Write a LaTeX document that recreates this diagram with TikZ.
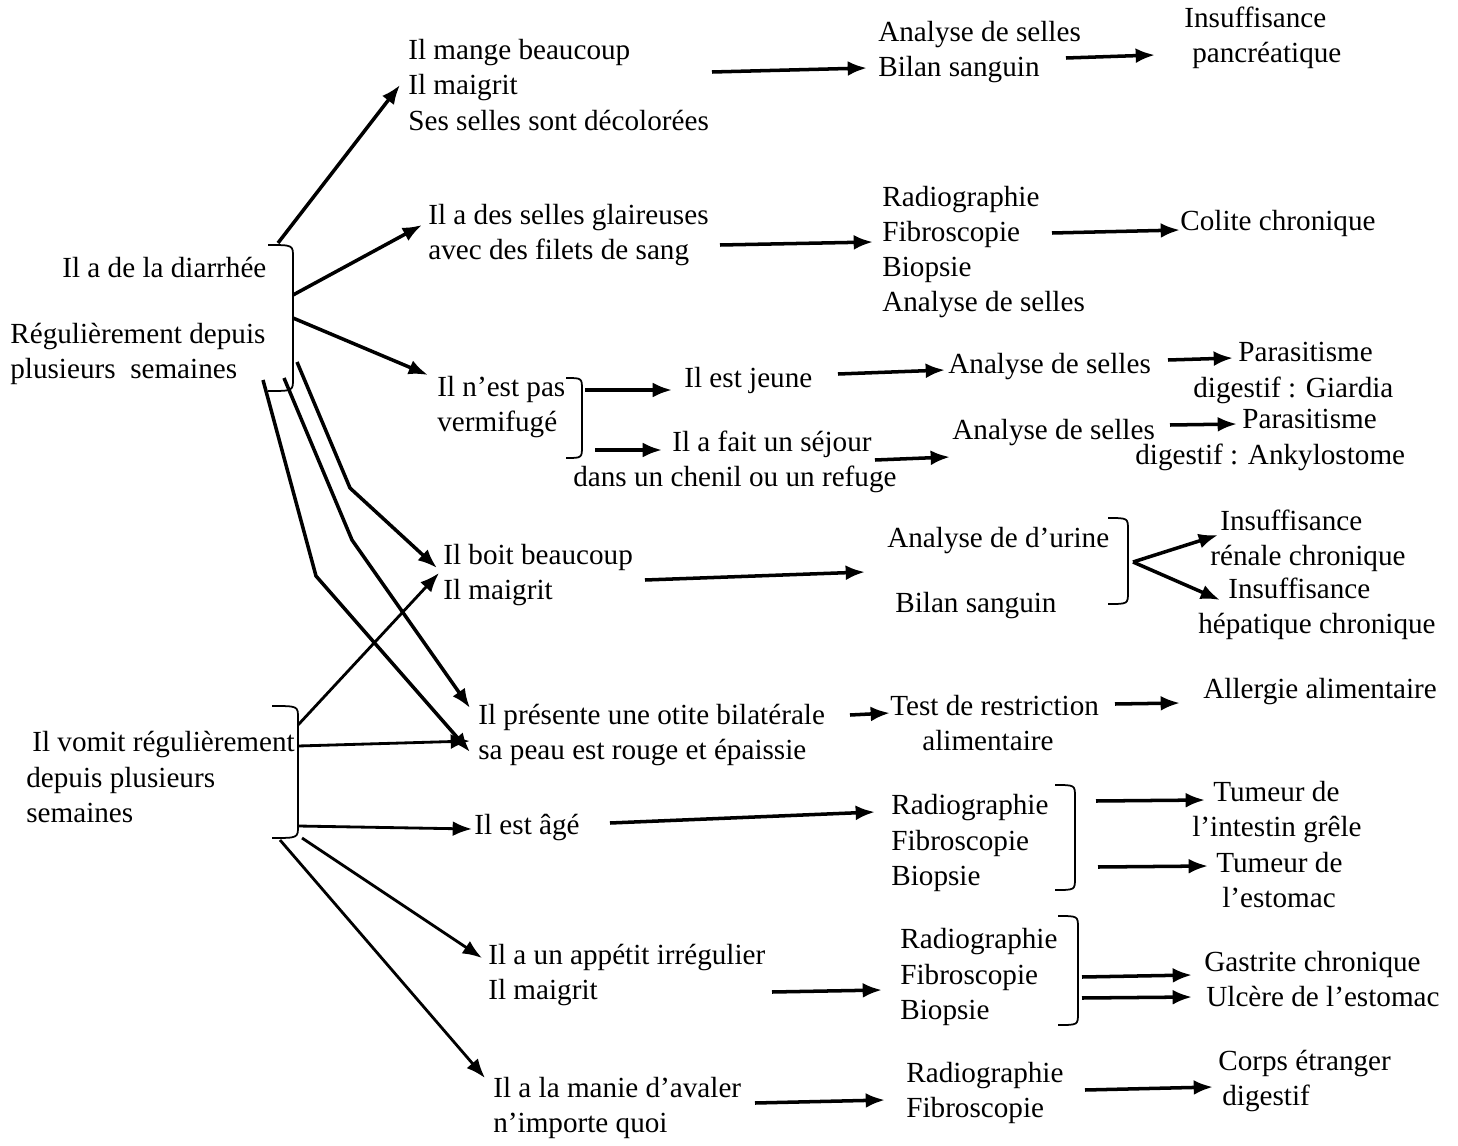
\documentclass[tikz,border=0pt]{standalone}
\usepackage{fontspec}
\setmainfont{Liberation Serif}
\usetikzlibrary{arrows.meta,calc}

\tikzset{
  txt/.style={inner sep=0pt, anchor=west, align=left, font=\fontsize{16.6pt}{20pt}\selectfont},
  arr/.style={line width=2pt, -{Latex[length=11pt,width=8.5pt]}},
  arrthin/.style={arr, line width=1.6pt},
  brc/.style={line width=1pt},
}

% closing bracket: tip x, bar x, top y, bottom y
\newcommand{\sidebrace}[4]{%
  \draw[brc] (#1,#3) .. controls (#2,#3) .. (#2,{#3+12}) -- (#2,{#4-12}) .. controls (#2,#4) .. (#1,#4);}

\begin{document}
\begin{tikzpicture}[x=0.02cm,y=-0.02cm]
\useasboundingbox (0,0) rectangle (1458,1146);

% signs
\node[txt] (diarr) at (62,268) {Il a de la diarrhée};
\node[txt] (regul) at (10,354) {Régulièrement depuis\\plusieurs\ \ semaines};
\node[txt] (vomit) at (26,777) {\hspace*{0.12cm}Il vomit régulièrement\\depuis plusieurs\\semaines};

% symptoms
\node[txt] (mange) at (408,85) {Il mange beaucoup\\Il maigrit\\Ses selles sont décolorées};
\node[txt] (glair) at (428,235) {Il a des selles glaireuses\\avec des filets de sang};
\node[txt] (verm) at (437,407) {Il n’est pas\\vermifugé};
\node[txt] (jeune) at (684,380) {Il est jeune};
\node[txt] (sejour) at (573,462) {\hspace*{1.98cm}Il a fait un séjour\\dans un chenil ou un refuge};
\node[txt] (boit) at (443,575) {Il boit beaucoup\\Il maigrit};
\node[txt] (otite) at (478,735) {Il présente une otite bilatérale\\sa peau est rouge et épaissie};
\node[txt] (age) at (474,827) {Il est âgé};
\node[txt] (appetit) at (488,975) {Il a un appétit irrégulier\\Il maigrit};
\node[txt] (manie) at (493,1108) {Il a la manie d’avaler\\n’importe quoi};

% exams
\node[txt] (bilan) at (878,52) {Analyse de selles\\Bilan sanguin};
\node[txt] (radioA) at (882,252) {Radiographie\\Fibroscopie\\Biopsie\\Analyse de selles};
\node[txt] (selA) at (948,367) {Analyse de selles};
\node[txt] (selB) at (952,433) {Analyse de selles};
\node[txt] (urine) at (887,573) {Analyse de d’urine\\[0.6cm]\hspace*{0.16cm}Bilan sanguin};
\node[txt] (test) at (890,723) {Test de restriction\\\hspace*{0.64cm}alimentaire};
\node[txt] (radioB) at (891,843) {Radiographie\\Fibroscopie\\Biopsie};
\node[txt] (radioC) at (900,977) {Radiographie\\Fibroscopie\\Biopsie};
\node[txt] (radioD) at (906,1093) {Radiographie\\Fibroscopie};

% diagnoses
\node[txt] (pancr) at (1184,38) {Insuffisance\\\hspace*{0.16cm}pancréatique};
\node[txt] (colite) at (1180,223) {Colite chronique};
\node[txt] (giard) at (1193,373) {\hspace*{0.9cm}Parasitisme\\digestif : Giardia};
\node[txt] (ankyl) at (1135,440) {\hspace*{2.14cm}Parasitisme\\digestif : Ankylostome};
\node[txt] (renal) at (1210,541) {\hspace*{0.2cm}Insuffisance\\rénale chronique};
\node[txt] (hepat) at (1198,609) {\hspace*{0.6cm}Insuffisance\\hépatique chronique};
\node[txt] (allerg) at (1203,692) {Allergie alimentaire};
\node[txt] (tumgr) at (1192,812) {\hspace*{0.42cm}Tumeur de\\l’intestin grêle};
\node[txt] (tumes) at (1216,880) {Tumeur de\\\hspace*{0.12cm}l’estomac};
\node[txt] (gastr) at (1204,964) {Gastrite chronique};
\node[txt] (ulcer) at (1206,996) {Ulcère de l’estomac};
\node[txt] (corps) at (1218,1081) {Corps étranger\\\hspace*{0.08cm}digestif};

% brackets
\sidebrace{268}{293}{245}{391}
\sidebrace{272}{298}{706}{838}
\sidebrace{566}{582}{378}{458}
\sidebrace{1108}{1128}{518}{604}
\sidebrace{1055}{1075}{785}{890}
\sidebrace{1058}{1078}{916}{1025}

\coordinate (b1a) at (278,243);
\coordinate (b1b) at (293,295);
\coordinate (b1c) at (293,318);
\coordinate (b1d) at (297,362);
\coordinate (b1e) at (284,378);
\coordinate (b1f) at (263,380);
\coordinate (b2a) at (298,725);
\coordinate (b2b) at (298,746);
\coordinate (b2c) at (298,826);
\coordinate (b2d) at (302,838);
\coordinate (b2e) at (280,840);
\coordinate (b3a) at (585,390);
\coordinate (b3b) at (595,450);
\coordinate (b4) at (1133,562);
\coordinate (b5a) at (1096,801);
\coordinate (b5b) at (1098,867);
\coordinate (b6a) at (1082,977);
\coordinate (b6b) at (1082,998);

% arrows out of the brackets
\foreach \s/\t/\dx/\dy in {b1a/mange/-8/0, b1b/glair/-6/-10, b1c/verm/-9/-32,
  b3a/jeune/-12/10, b3b/sejour/89/-12, b4/renal/8/-6, b4/hepat/22/-9,
  b5a/tumgr/13/-12, b5b/tumes/-8/-14, b6a/gastr/-12/11, b6b/ulcer/-14/1}
{
  \draw[arr] (\s) -- ($(\t.west)+(\dx,\dy)$);
}
\foreach \s/\t/\dx/\dy in {b2a/boit/-4/-2, b2b/otite/-8/6, b2c/age/-2/2,
  b2d/appetit/-6/-17, b2e/manie/-8/-30}
{
  \draw[arrthin] (\s) -- ($(\t.west)+(\dx,\dy)$);
}

% long bent lines
\draw[arr] (b1d) -- (350,488) -- ($(boit.west)+(-6,-7)$);
\draw[arr] (b1e) -- (352,540) -- ($(otite.west)+(-8,-27)$);
\draw[arr] (b1f) -- (316,576) -- ($(otite.west)+(-8,17)$);

% node to node
\foreach \a/\ax/\ay/\b/\bx/\by in {mange/304/-13/bilan/-11/16, bilan/188/6/pancr/-29/17,
  glair/292/10/radioA/-9/-10, radioA/170/-19/colite/0/7,
  jeune/154/-6/selA/-3/3, sejour/302/-2/selB/-2/24,
  selA/220/-7/giard/40/-15, selB/218/-8/ankyl/102/-16,
  boit/202/5/urine/-22/-1, otite/372/-20/test/0/-10, test/225/-19/allerg/-23/11,
  age/136/-4/radioB/-16/-31, appetit/284/17/radioC/-18/13,
  manie/262/-5/radioD/-21/7, radioD/179/-3/corps/-5/6}
{
  \draw[arr] ($(\a.west)+(\ax,\ay)$) -- ($(\b.west)+(\bx,\by)$);
}

\end{tikzpicture}
\end{document}
